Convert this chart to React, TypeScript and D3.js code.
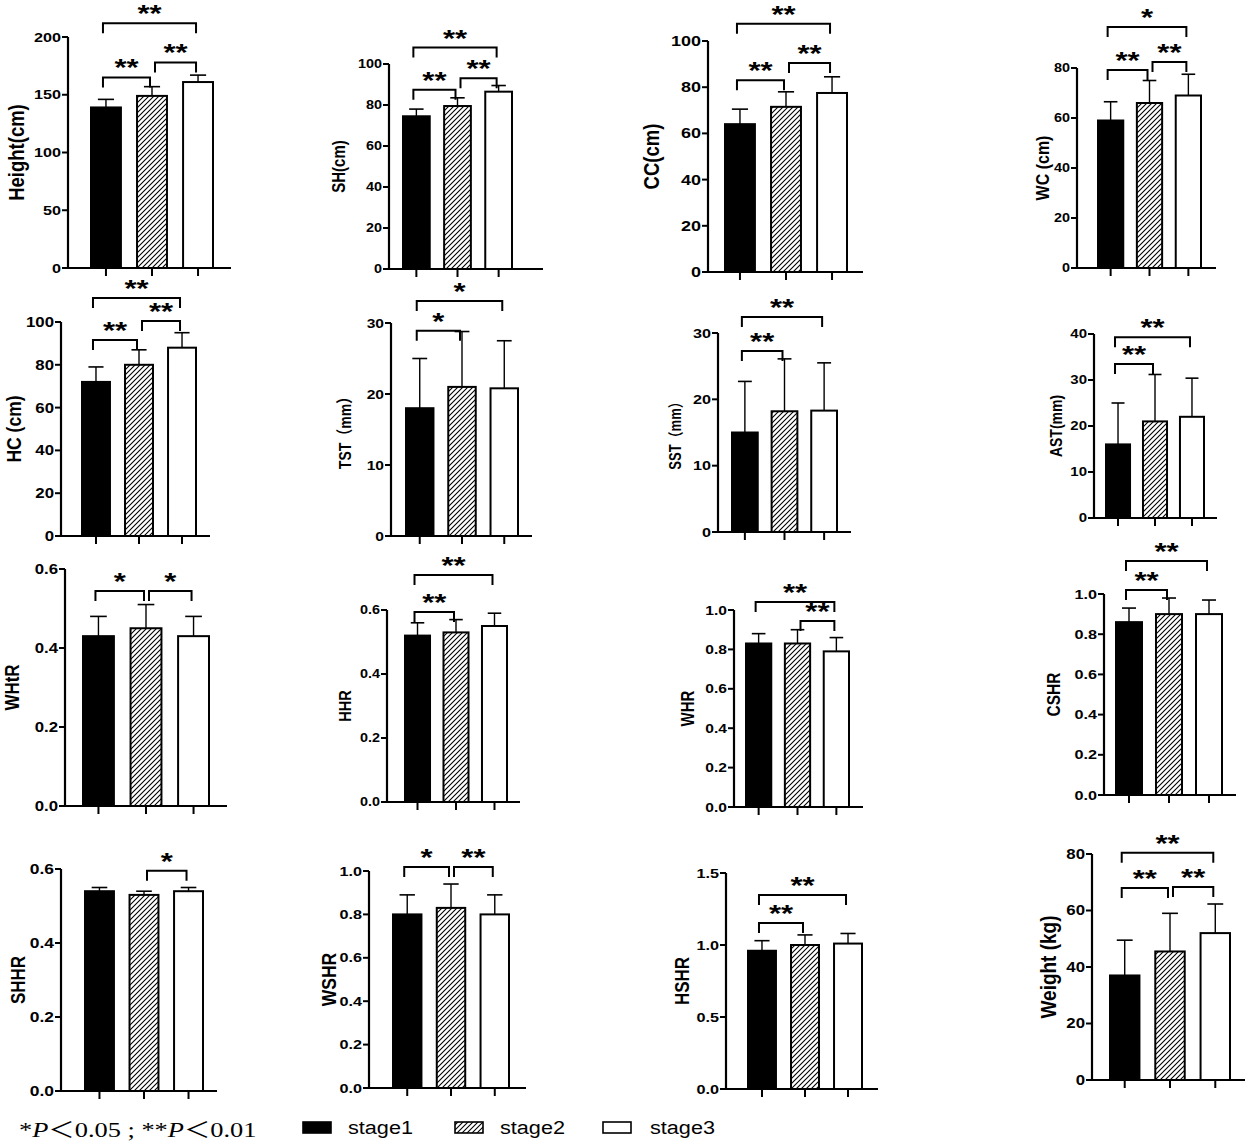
import React from 'react';
import * as d3 from 'd3';

// stages shown in every panel
const stages = ['stage1', 'stage2', 'stage3'];

const panelLabels = [
  'Height(cm)', 'SH(cm)', 'CC(cm)', 'WC (cm)',
  'HC (cm)', 'TST（mm）', 'SST（mm）', 'AST(mm)',
  'WHtR', 'HHR', 'WHR', 'CSHR',
  'SHHR', 'WSHR', 'HSHR', 'Weight (kg)',
];

const yMax = [200, 100, 100, 80, 100, 30, 30, 40, 0.6, 0.6, 1.0, 1.0, 0.6, 1.0, 1.5, 80];
const yStep = [50, 20, 20, 20, 20, 10, 10, 10, 0.2, 0.2, 0.2, 0.2, 0.2, 0.2, 0.5, 20];
const yDecimals = [0, 0, 0, 0, 0, 0, 0, 0, 1, 1, 1, 1, 1, 1, 1, 0];

const means = [
  [139, 149, 161], [74.5, 79.5, 86.5], [64, 71.5, 77.5], [59, 66, 69],
  [72, 80, 88], [18, 21, 20.8], [15, 18.2, 18.3], [16, 21, 22],
  [0.43, 0.45, 0.43], [0.52, 0.53, 0.55], [0.83, 0.83, 0.79], [0.86, 0.9, 0.9],
  [0.54, 0.53, 0.54], [0.8, 0.83, 0.8], [0.96, 1.0, 1.01], [37, 45.5, 52],
];

const sds = [
  [7, 8, 6], [3.5, 4, 3], [6.5, 6.5, 7], [7.5, 9, 8.5],
  [7, 7, 7], [7, 7.8, 6.7], [7.7, 7.9, 7.2], [9, 10.2, 8.4],
  [0.05, 0.06, 0.05], [0.04, 0.04, 0.04], [0.05, 0.07, 0.07], [0.07, 0.08, 0.07],
  [0.01, 0.01, 0.01], [0.09, 0.11, 0.09], [0.07, 0.07, 0.07], [12.5, 13.5, 10.3],
];

// significance brackets: [from, to, level (data units), mark]
const brackets: [number, number, number, string][][] = [
  [[0, 2, 212, '**'], [0, 1, 165, '**'], [1, 2, 178, '**']],
  [[0, 2, 108, '**'], [0, 1, 87.5, '**'], [1, 2, 93, '**']],
  [[0, 2, 107.5, '**'], [0, 1, 83, '**'], [1, 2, 90.5, '**']],
  [[0, 2, 96.4, '*'], [0, 1, 79.2, '**'], [1, 2, 82.4, '**']],
  [[0, 2, 111.2, '**'], [0, 1, 91.6, '**'], [1, 2, 100.5, '**']],
  [[0, 2, 33.1, '*'], [0, 1, 28.9, '*']],
  [[0, 2, 32.4, '**'], [0, 1, 27.3, '**']],
  [[0, 2, 39.3, '**'], [0, 1, 33.5, '**']],
  [[0, 1, 0.544, '*'], [1, 2, 0.544, '*']],
  [[0, 2, 0.709, '**'], [0, 1, 0.594, '**']],
  [[0, 2, 1.041, '**'], [1, 2, 0.944, '**']],
  [[0, 2, 1.164, '**'], [0, 1, 1.02, '**']],
  [[1, 2, 0.595, '*']],
  [[0, 1, 1.018, '*'], [1, 2, 1.018, '**']],
  [[0, 2, 1.347, '**'], [0, 1, 1.153, '**']],
  [[0, 2, 80.4, '**'], [0, 1, 68, '**'], [1, 2, 68.3, '**']],
];

// layout per panel:
// axis x, x-axis end, first bar left, last bar right, y of max tick, y of zero, label x, tick font, label font
const frames = [
  [68, 231, 91, 213, 37, 268, 16, 13.5, 18.5],
  [389, 543, 403, 512, 64, 269, 339, 12, 15],
  [708, 863, 725, 847, 41, 272, 651, 15, 18.5],
  [1077, 1216, 1098, 1201, 68, 268, 1042, 12, 16],
  [61, 210, 82, 196, 322, 536, 14, 14, 17.5],
  [391, 532, 406, 518, 323, 536, 345, 13, 14],
  [718, 851, 732, 837, 333, 532, 676, 13.5, 13],
  [1094, 1217, 1106, 1204, 334, 518, 1056, 12.5, 14],
  [65, 227, 83, 209, 569, 806, 12, 14, 17],
  [387, 520, 405, 507, 610, 802, 345, 12, 14.5],
  [734, 863, 746, 849, 610, 807, 688, 13, 15],
  [1104, 1236, 1116, 1222, 594, 795, 1054, 13.5, 15.5],
  [61, 217, 85, 203, 869, 1091, 18, 14.5, 17],
  [369, 526, 393, 509, 871, 1088, 329, 13.5, 17.5],
  [726, 878, 748, 862, 873, 1089, 682, 13.5, 17],
  [1092, 1245, 1110, 1230, 854, 1080, 1048, 14, 19],
];

const SX = 1.2; // the source figure is stretched horizontally
const SANS = "'Liberation Sans', Arial, 'Noto Sans CJK SC', sans-serif";
const fills = ['#000', 'url(#hatch)', '#fff'];

const Panel = ({ i }: { i: number }) => {
  const [ax, xEnd, bL, bR, yTop, y0, labelX, tickFs, labelFs] = frames[i];
  const x = d3.scaleBand<string>().domain(stages).range([bL, bR]).paddingInner(0.35).paddingOuter(0);
  const y = d3.scaleLinear().domain([0, yMax[i]]).range([y0, yTop]);
  const ticks = d3.range(0, yMax[i] + yStep[i] / 2, yStep[i]);
  const fmt = d3.format(`.${yDecimals[i]}f`);
  const bw = x.bandwidth();
  const cx = (k: number) => (x(stages[k]) as number) + bw / 2;

  return (
    <g>
      {stages.map((s, k) => {
        const top = y(means[i][k] + sds[i][k]);
        return (
          <g key={s}>
            <line x1={cx(k)} x2={cx(k)} y1={y(means[i][k])} y2={top} stroke="#000" strokeWidth={1.4} />
            <line x1={cx(k) - bw * 0.27} x2={cx(k) + bw * 0.27} y1={top} y2={top} stroke="#000" strokeWidth={1.6} />
            <rect
              x={x(s)}
              y={y(means[i][k])}
              width={bw}
              height={y0 - y(means[i][k])}
              fill={fills[k]}
              stroke="#000"
              strokeWidth={2}
            />
          </g>
        );
      })}
      <line x1={ax} x2={ax} y1={y0 + 1} y2={yTop} stroke="#000" strokeWidth={2.2} />
      <line x1={ax - 1} x2={xEnd} y1={y0} y2={y0} stroke="#000" strokeWidth={2.2} />
      {ticks.map((t) => (
        <g key={t}>
          <line x1={ax - 6} x2={ax} y1={y(t)} y2={y(t)} stroke="#000" strokeWidth={2} />
          <text
            transform={`translate(${ax - 7},${y(t)}) scale(${SX},1)`}
            textAnchor="end"
            dominantBaseline="central"
            fontFamily={SANS}
            fontWeight="bold"
            fontSize={tickFs}
          >
            {fmt(t)}
          </text>
        </g>
      ))}
      {stages.map((s, k) => (
        <line key={s} x1={cx(k)} x2={cx(k)} y1={y0} y2={y0 + 8} stroke="#000" strokeWidth={2} />
      ))}
      <text
        transform={`translate(${labelX},${(y0 + yTop) / 2}) scale(${SX},1) rotate(-90)`}
        textAnchor="middle"
        dominantBaseline="central"
        fontFamily={SANS}
        fontWeight="bold"
        fontSize={labelFs}
      >
        {panelLabels[i]}
      </text>
      {brackets[i].map(([a, b, lvl, mark], n) => {
        const by = y(lvl);
        const x1 = a === 1 ? cx(a) + 3 : cx(a) - 3;
        const x2 = cx(b) - 2;
        return (
          <g key={n}>
            <path d={`M${x1},${by + 10}V${by}H${x2}V${by + 10}`} fill="none" stroke="#000" strokeWidth={2} />
            <text
              transform={`translate(${(x1 + x2) / 2},${by - 1}) scale(1.35,1)`}
              textAnchor="middle"
              fontFamily={SANS}
              fontWeight="bold"
              fontSize={23}
            >
              {mark}
            </text>
          </g>
        );
      })}
    </g>
  );
};

// legend swatch and text positions
const legendX = [303, 455, 603];
const legendTextX = [348, 500, 650];

export default function App() {
  return (
    <svg
      width={1248}
      height={1145}
      style={{ position: 'absolute', left: 0, top: 0, background: '#fff' }}
    >
      <defs>
        <pattern id="hatch" patternUnits="userSpaceOnUse" width={5} height={5}>
          <rect width={5} height={5} fill="#fff" />
          <path d="M-1,1 l2,-2 M0,5 l5,-5 M4,6 l2,-2" stroke="#000" strokeWidth={1.1} />
        </pattern>
      </defs>
      <rect width={1248} height={1145} fill="#fff" />
      {panelLabels.map((_, i) => (
        <Panel key={i} i={i} />
      ))}
      <text
        transform="translate(19,1137) scale(1.2,1)"
        fontFamily="'Liberation Serif', 'Times New Roman', 'Noto Sans CJK SC', serif"
        fontSize={22}
      >
        *<tspan fontStyle="italic">P</tspan>＜0.05 ; **<tspan fontStyle="italic">P</tspan>＜0.01
      </text>
      {stages.map((s, k) => (
        <g key={s}>
          <rect x={legendX[k]} y={1122} width={28} height={11} fill={fills[k]} stroke="#000" strokeWidth={1.6} />
          <text
            transform={`translate(${legendTextX[k]},1134) scale(1.14,1)`}
            fontFamily={SANS}
            fontSize={19}
          >
            {s}
          </text>
        </g>
      ))}
    </svg>
  );
}
